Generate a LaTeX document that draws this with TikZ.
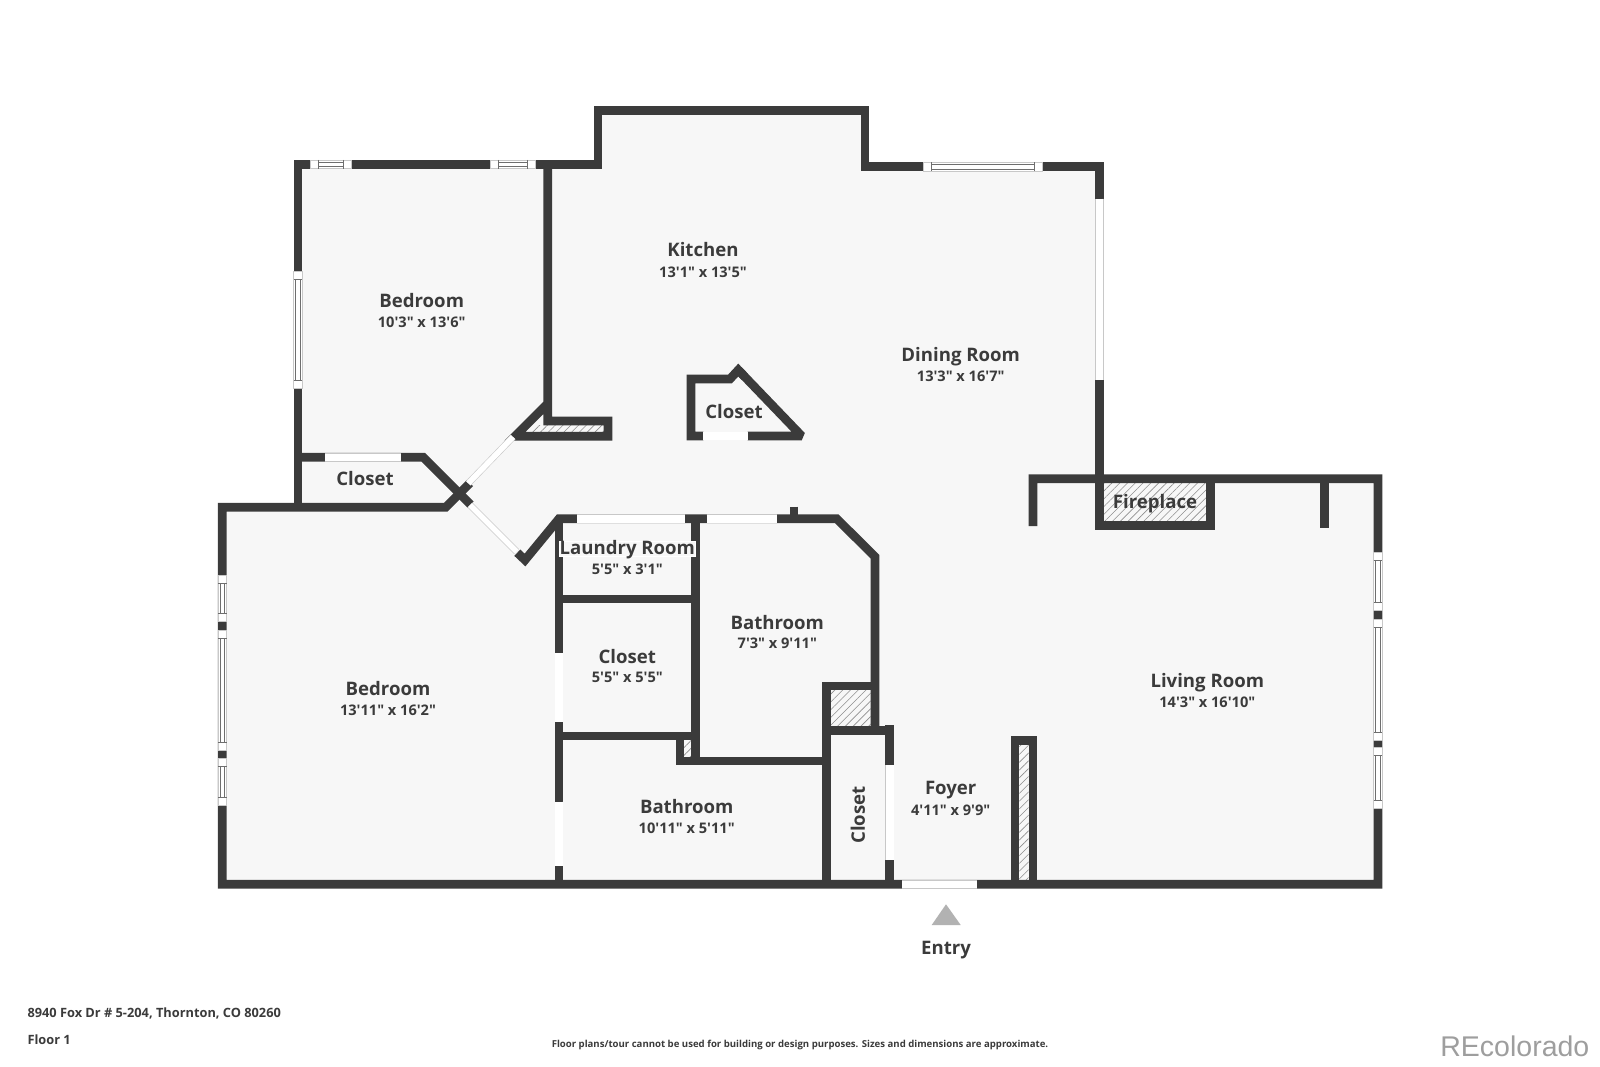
\documentclass[tikz,border=0pt]{standalone}
\usepackage{fontspec}
\setmainfont{Open Sans}[Ligatures=TeXOff]
\newfontfamily\logofont{Liberation Sans}
\usetikzlibrary{patterns.meta}
\definecolor{wallgray}{HTML}{3B3B3B}
\definecolor{floorgray}{HTML}{F7F7F7}
\definecolor{edgegray}{HTML}{C8C8C8}
\definecolor{panegray}{HTML}{6E6E6E}
\definecolor{hatchgray}{HTML}{8E8E8E}
\newcommand{\panev}[3]{%
  \fill[white] (#1-4.4,#2) rectangle (#1+4.4,#3);
  \draw[edgegray,line width=.6pt] (#1-4.4,#2) rectangle (#1+4.4,#3);
  \draw[panegray,line width=.6pt] (#1-4.4,#2+8) -- (#1+4.4,#2+8) (#1-4.4,#3-8) -- (#1+4.4,#3-8)
    (#1-2.4,#2+8) -- (#1-2.4,#3-8) (#1+2.4,#2+8) -- (#1+2.4,#3-8);
}
\newcommand{\paneh}[3]{%
  \fill[white] (#2,#1-4.4) rectangle (#3,#1+4.4);
  \draw[edgegray,line width=.6pt] (#2,#1-4.4) rectangle (#3,#1+4.4);
  \draw[panegray,line width=.6pt] (#2+8,#1-4.4) -- (#2+8,#1+4.4) (#3-8,#1-4.4) -- (#3-8,#1+4.4)
    (#2+8,#1-2.4) -- (#3-8,#1-2.4) (#2+8,#1+2.4) -- (#3-8,#1+2.4);
}
\begin{document}
\begin{tikzpicture}[x=1pt,y=-1pt,
  wall/.style={draw=wallgray,line width=8.7pt,line join=miter},
  door/.style={draw=edgegray,line width=.6pt,double=white,double distance=7.6pt},
  leaf/.style={draw=edgegray,line width=.6pt,double=white,double distance=5.6pt},
  hatched/.style={pattern={Lines[angle=45,distance=5.5pt,line width=.6pt]},pattern color=hatchgray}]
  \tikzstyle{room}=[text=wallgray,inner sep=0pt,text height=13.2pt,text depth=0pt,font=\bfseries\fontsize{18.6}{18.6}\selectfont]
  \tikzstyle{size}=[text=wallgray,inner sep=0pt,text height=10.4pt,text depth=0pt,font=\bfseries\fontsize{14.6}{14.6}\selectfont]
  \tikzstyle{foot}=[text=wallgray,inner sep=0pt,anchor=west,font=\bfseries\fontsize{12.8}{12.8}\selectfont]

  \useasboundingbox (0,0) rectangle (1600,1066);
  \fill[white] (0,0) rectangle (1600,1066);

  % floor
  \fill[floorgray] (298,164.3) -- (598,164.3) -- (598,110.7) -- (865,110.7) -- (865,166.7)
    -- (1099.3,166.7) -- (1099.3,478.7) -- (1378,478.7) -- (1378,884.3) -- (222.3,884.3)
    -- (222.3,507.3) -- (298,507.3) -- cycle;

  % hatching
  \fill[hatched] (526.7,432.7) -- (604,432.7) -- (604,425) -- (535,425) -- cycle;
  \fill[hatched] (1103.3,483.3) rectangle (1206.7,521.7);
  \fill[hatched] (1019.3,745) rectangle (1028.7,880);
  \fill[hatched] (830.7,690.7) rectangle (870.7,726.7);
  \fill[hatched] (684,740) rectangle (691.7,756.7);

  % outer walls
  \draw[wall] (298,164.3) -- (598,164.3) -- (598,110.7) -- (865,110.7) -- (865,166.7)
    -- (1099.3,166.7) -- (1099.3,478.7);
  \draw[wall] (1033,526) -- (1033,478.7) -- (1378,478.7) -- (1378,884.3) -- (222.3,884.3)
    -- (222.3,507.3) -- (445.7,507.3) -- (470,483);
  \draw[wall] (298,507.3) -- (298,164.3) -- (302,164.3);

  % upper bedroom and closet
  \draw[wall] (547.7,164.3) -- (547.7,421) -- (608,421) -- (608,436.3) -- (515,436.3) -- (547.7,403.5);
  \draw[wall] (298,457.3) -- (423.3,457.3) -- (470.5,504.5);

  % middle rooms
  \draw[wall] (517.3,552.7) -- (525,560) -- (559,518.7) -- (836.7,518.7) -- (875,556.7) -- (875,730.7);
  \draw[wall] (794,506.7) -- (794,518.7);
  \draw[wall] (559,518.7) -- (559,884.3);
  \draw[wall] (695.7,518.7) -- (695.7,761);
  \draw[wall] (559,599) -- (695.7,599);
  \draw[wall] (559,736) -- (695.7,736);
  \draw[wall] (680,736) -- (680,761) -- (826.7,761);
  \draw[wall] (826.7,884.3) -- (826.7,686) -- (875,686);
  \draw[wall] (826.7,730.7) -- (889.7,730.7);
  \draw[wall] (889.7,725) -- (889.7,884.3);

  % central closet
  \draw[wall] (703.3,436) -- (691,436) -- (691,379) -- (730,379) -- (738.3,370) -- (745,377);
  \draw[wall,line join=bevel] (738.3,370) -- (801.7,436) -- (747.7,436);

  % fireplace, stubs and partition
  \draw[wall] (1099.3,478.7) -- (1099.3,525.7) -- (1210.3,525.7) -- (1210.3,478.7);
  \draw[wall] (1324.7,478.7) -- (1324.7,528);
  \draw[wall] (1015,884.3) -- (1015,740.7) -- (1033,740.7) -- (1033,884.3);

  % doors
  \draw[door] (1099.3,198.7) -- (1099.3,380);
  \draw[door] (325,457.3) -- (401,457.3);
  \draw[door] (577.3,518.7) -- (685,518.7);
  \draw[door] (706.7,518.7) -- (776.7,518.7);
  \draw[door] (559,653) -- (559,721.7);
  \draw[door] (559,801.7) -- (559,865.7);
  \draw[door] (889.7,765) -- (889.7,860);
  \draw[door] (902.3,884.3) -- (977.3,884.3);
  \draw[door] (703.3,436) -- (747.7,436);
  \draw[leaf] (513,437) -- (468.3,483.3);
  \draw[leaf] (470,505) -- (516.7,551.7);

  % windows
  \paneh{164.3}{310}{351.7}
  \paneh{164.3}{490.7}{535.3}
  \paneh{166.7}{923.3}{1042.3}
  \panev{298}{271}{388.7}
  \foreach \ya/\yb in {575.3/621,630/750,758.3/805.3}
    \panev{222.3}{\ya}{\yb};
  \foreach \ya/\yb in {552.3/610,619.3/740,747.3/808.3}
    \panev{1378}{\ya}{\yb};

  % entry mark
  \fill[black!30] (946,904.3) -- (960.7,925) -- (931.7,925) -- cycle;

  % room labels
  \node[room] (kitchen)   at (703,250)      {Kitchen};
  \node[size] (kitchensz) at (703,272)      {13'1" x 13'5"};
  \node[room] (dining)    at (960.7,355)    {Dining Room};
  \node[size] (diningsz)  at (960.7,376)    {13'3" x 16'7"};
  \node[room] (bedup)     at (421.7,300.7)  {Bedroom};
  \node[size] (bedupsz)   at (421.7,322)    {10'3" x 13'6"};
  \node[room] (bedlow)    at (388,689)      {Bedroom};
  \node[size] (bedlowsz)  at (388,710.7)    {13'11" x 16'2"};
  \node[room] (closeta)   at (734,412.3)    {Closet};
  \node[room] (closetb)   at (365,479)      {Closet};
  \node[room,fill=floorgray,text depth=1.8pt,draw=white,line width=.6pt] (laundry) at (627.3,549.2) {Laundry Room};
  \node[size] (laundrysz) at (627.3,569.3)  {5'5" x 3'1"};
  \node[room] (closetc)   at (627.3,656.7)  {Closet};
  \node[size] (closetcsz) at (627.3,677.7)  {5'5" x 5'5"};
  \node[room] (bathup)    at (777.3,622.7)  {Bathroom};
  \node[size] (bathupsz)  at (777.3,643.7)  {7'3" x 9'11"};
  \node[room] (bathlow)   at (686.7,806.7)  {Bathroom};
  \node[size] (bathlowsz) at (686.7,828)    {10'11" x 5'11"};
  \node[room,rotate=90] (closetd) at (858.3,815) {Closet};
  \node[room] (foyer)     at (950.7,788.3)  {Foyer};
  \node[size] (foyersz)   at (950.7,810)    {4'11" x 9'9"};
  \node[room] (living)    at (1207.3,680.7) {Living Room};
  \node[size] (livingsz)  at (1207.3,702.3) {14'3" x 16'10"};
  \node[room] (fireplace) at (1155,502.3)   {Fireplace};
  \node[room] (entry)     at (946,947.7)    {Entry};

  % footer
  \node[foot] (address) at (27.3,1013.5) {8940 Fox Dr \# 5-204, Thornton, CO 80260};
  \node[foot] (floor)   at (27.3,1040) {Floor 1};
  \node[text=wallgray,inner sep=0pt,font=\bfseries\fontsize{9.6}{9.6}\selectfont] (note) at (800,1045.2)
    {Floor plans/tour cannot be used for building or design purposes. Sizes and dimensions are approximate.};
  \node[text=black!38,inner sep=0pt,anchor=base east,font=\logofont\fontsize{28.5}{28.5}\selectfont] (logo)
    at (1589.5,1056) {REcolorado};
\end{tikzpicture}
\end{document}
